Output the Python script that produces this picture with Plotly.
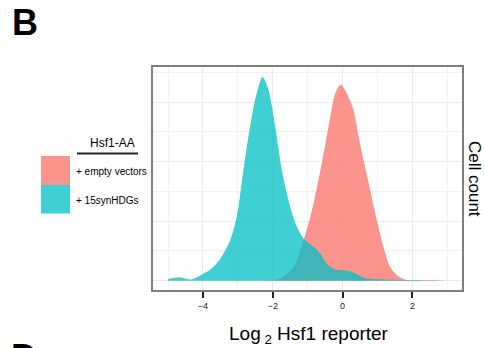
import plotly.graph_objects as go

# Data
cyan_x = [-5.0, -4.66, -4.32, -3.99, -3.80, -3.51, -3.22, -3.03, -2.84, -2.65, -2.46, -2.29,
          -2.12, -1.93, -1.74, -1.50, -1.31, -1.12, -0.83, -0.64, -0.45, -0.21, 0.12, 0.41,
          0.65, 1.17, 1.75, 2.13, 2.42]
cyan_y = [0.03, 0.06, 0.02, 0.12, 0.18, 0.36, 0.68, 1.08, 1.86, 2.59, 3.15, 3.42,
          3.20, 2.59, 1.86, 1.24, 0.91, 0.71, 0.57, 0.46, 0.28, 0.19, 0.17, 0.11,
          0.04, 0.02, 0.01, 0.01, 0.0]
red_x = [-2.74, -1.97, -1.69, -1.40, -1.12, -0.92, -0.73, -0.54, -0.35, -0.21, -0.05, 0.12,
         0.31, 0.46, 0.60, 0.79, 0.98, 1.17, 1.36, 1.60, 1.84, 2.6, 2.98]
red_y = [0.0, 0.01, 0.07, 0.23, 0.68, 1.08, 1.58, 2.14, 2.76, 3.15, 3.29, 3.15,
         2.87, 2.42, 2.03, 1.52, 1.02, 0.57, 0.23, 0.07, 0.01, 0.01, 0.0]
series_names = ["+ empty vectors", "+ 15synHDGs"]
tick_vals = [-4, -2, 0, 2]
tick_text = ["\u22124", "\u22122", "0", "2"]

RED = "rgba(248,118,109,0.78)"
CYAN = "rgba(0,191,196,0.75)"
FONT = "Liberation Sans, Arial, sans-serif"

W, H = 485, 348
L, R, T, B = 153, 23, 67, 58
PW, PH = W - L - R, H - T - B


def px(x):
    return (x - L) / PW


def py(y):
    return (H - B - y) / PH


fig = go.Figure()
fig.add_trace(go.Scatter(x=red_x, y=red_y, mode="lines", fill="tozeroy", fillcolor=RED,
                         line=dict(width=0, shape="spline", smoothing=0.8, color=RED),
                         name=series_names[0], showlegend=False))
fig.add_trace(go.Scatter(x=cyan_x, y=cyan_y, mode="lines", fill="tozeroy", fillcolor=CYAN,
                         line=dict(width=0, shape="spline", smoothing=0.8, color=CYAN),
                         name=series_names[1], showlegend=False))

grid = "#ebebeb"
fig.update_layout(
    width=W, height=H,
    margin=dict(l=L, r=R, t=T, b=B),
    plot_bgcolor="white", paper_bgcolor="white",
    font=dict(family=FONT, color="#000"),
    xaxis=dict(range=[-5.43, 3.42], tickvals=tick_vals, ticktext=tick_text,
               ticks="outside", ticklen=6, tickwidth=2, tickcolor="#222",
               tickfont=dict(size=9, color="#222"),
               showgrid=True, gridcolor=grid, gridwidth=1, zeroline=False,
               minor=dict(tickvals=[-5, -3, -1, 1, 3], showgrid=True, gridcolor="#f2f2f2", gridwidth=1),
               showline=True, mirror=True, linecolor="#7f7f7f", linewidth=1.5),
    yaxis=dict(range=[-0.156, 3.59], tickvals=[0, 1, 2, 3], showticklabels=False, ticks="",
               showgrid=True, gridcolor=grid, gridwidth=1, zeroline=False,
               minor=dict(tickvals=[0.5, 1.5, 2.5, 3.5], showgrid=True, gridcolor="#f2f2f2", gridwidth=1),
               showline=True, mirror=True, linecolor="#7f7f7f", linewidth=1.5),
)

shapes = [
    dict(type="rect", xref="paper", yref="paper", x0=px(41), x1=px(70), y0=py(185), y1=py(156),
         fillcolor=RED, line=dict(width=0)),
    dict(type="rect", xref="paper", yref="paper", x0=px(41), x1=px(70), y0=py(213.5), y1=py(185),
         fillcolor=CYAN, line=dict(width=0)),
    dict(type="line", xref="paper", yref="paper", x0=px(77), x1=px(138), y0=py(153.5), y1=py(153.5),
         line=dict(color="#222", width=2)),
]
fig.update_layout(shapes=shapes)

ann = [
    dict(text="<b>B</b>", x=px(25), y=py(22), font=dict(size=36, color="#000")),
    dict(text="<b>D</b>", x=px(24), y=py(357), font=dict(size=36, color="#000")),
    dict(text="Hsf1-AA", x=px(112.5), y=py(143), font=dict(size=12)),
    dict(text=series_names[0], x=px(74), y=py(171.5), xanchor="left", font=dict(size=10)),
    dict(text=series_names[1], x=px(74), y=py(200.5), xanchor="left", font=dict(size=10)),
    dict(text="Cell count", x=px(474.5), y=py(178.5), textangle=90, font=dict(size=17)),
    dict(text="Log<sub> 2</sub> Hsf1 reporter", x=px(309), y=py(335), font=dict(size=19)),
]
for a in ann:
    a.setdefault("xanchor", "center")
    a.update(xref="paper", yref="paper", showarrow=False, yanchor="middle")
    fig.add_annotation(**a)

fig.write_html("out.html")
